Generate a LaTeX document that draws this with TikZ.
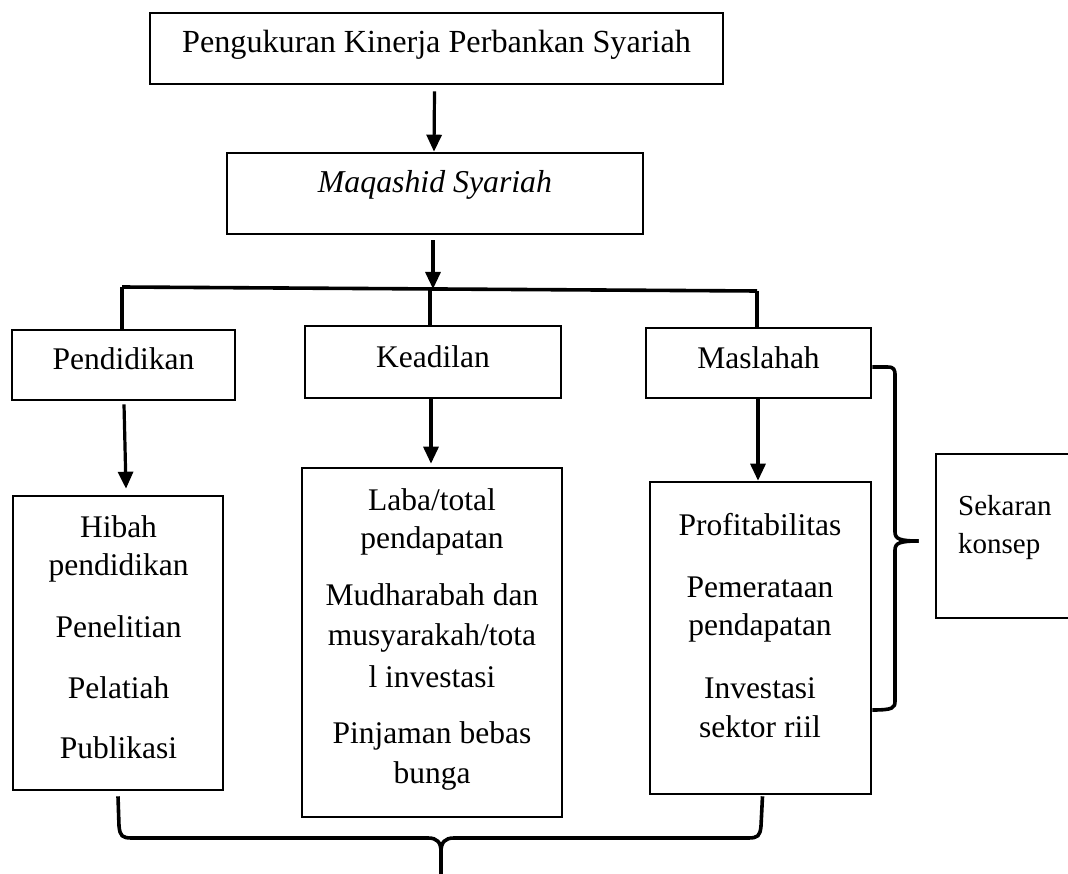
\documentclass[tikz,border=0pt]{standalone}
\usepackage{fontspec}
\setmainfont{Liberation Serif}
\usetikzlibrary{arrows.meta,calc}
\begin{document}
\begin{tikzpicture}[x=1pt,y=-1pt,
  box/.style={draw, line width=2.6pt, inner sep=0pt},
  txt/.style={font=\fontsize{31.5}{39}\selectfont, align=center, inner sep=0pt, anchor=base},
  arr/.style={line width=3.2pt, -{Triangle[length=17pt,width=15pt]}},
  conn/.style={line width=3.6pt},
  brace/.style={line width=3.6pt, line join=round}]
\useasboundingbox (0,0) rectangle (1068,874);

% boxes
\node[box, minimum width=573pt, minimum height=71pt] (top) at (436.5,48.5) {};
\node[box, minimum width=416pt, minimum height=81pt] (maq) at (435,193.5) {};
\node[box, minimum width=223pt, minimum height=70pt] (pend) at (123.5,365) {};
\node[box, minimum width=256pt, minimum height=72pt] (kead) at (433,362) {};
\node[box, minimum width=225pt, minimum height=70pt] (masl) at (758.5,363) {};
\node[box, minimum width=210pt, minimum height=294pt] (hib) at (118,643) {};
\node[box, minimum width=260pt, minimum height=349pt] (laba) at (432,642.5) {};
\node[box, minimum width=221pt, minimum height=312pt] (prof) at (760.5,638) {};
\node[box, minimum width=138pt, minimum height=164pt] (sek) at (1005,536) {};

% texts (multi-line nodes: base anchor = last line)
\node[txt, font=\fontsize{32.2}{39}\selectfont] (ttop) at (436.5,53) {Pengukuran Kinerja Perbankan Syariah};
\node[txt, font=\fontsize{31.8}{39}\selectfont\itshape] (tmaq) at (435,193) {Maqashid Syariah};
\node[txt] (tpend) at (123.5,370) {Pendidikan};
\node[txt] (tkead) at (433,367) {Keadilan};
\node[txt] (tmasl) at (758.5,369) {Maslahah};
\node[txt, font=\fontsize{31.5}{38}\selectfont] (thib) at (118.5,758)
  {Hibah\\pendidikan\\[24pt]Penelitian\\[23pt]Pelatiah\\[22pt]Publikasi};
\node[txt, font=\fontsize{31.5}{40}\selectfont] (tlaba) at (432,783)
  {Laba/total\\[-2pt]pendapatan\\[17pt]Mudharabah dan\\musyarakah/tota\\[2pt]l investasi\\[16pt]Pinjaman bebas\\bunga};
\node[txt, font=\fontsize{31.5}{38}\selectfont] (tprof) at (760,737)
  {Profitabilitas\\[24pt]Pemerataan\\pendapatan\\[25pt]Investasi\\[1pt]sektor riil};
\node[txt, font=\fontsize{29}{38}\selectfont, align=left, anchor=base west] (tsek) at (958,553)
  {Sekaran\\konsep};

% connectors
\coordinate (jL) at (122,287);
\coordinate (jR) at (757,291);
\coordinate (jM) at (433,289);
\draw[arr] ($(top.south)+(-2,6)$) -- ($(maq.north)+(-1,0)$);
\draw[arr] ($(maq.south)+(-2,5)$) -- (jM);
\draw[conn] (jL) -- (jR);
\draw[conn] (jL) -- (jL |- pend.north);
\draw[conn] ($(jM)+(-3,1)$) -- ($(kead.north)+(-3,0)$);
\draw[conn] (jR) -- ($(masl.north)+(-1.5,0)$);
\draw[arr] ($(pend.south)+(0.5,3)$) -- ($(hib.north)+(8,-6)$);
\draw[arr] ($(kead.south)+(-2,0)$) -- ($(laba.north)+(-1,-3)$);
\draw[arr] ($(masl.south)+(-0.5,0)$) -- ($(prof.north)+(-2.5,0)$);

% right brace
\coordinate (rbT) at ($(masl.east)+(0,4)$);
\coordinate (rbB) at ($(prof.east)+(0,72)$);
\coordinate (rbM) at ($(sek.west)+(-16,5)$);
\draw[brace] (rbT) -- (887,367) .. controls (894,367) and (895,369) .. (895,376) -- (895,532)
  .. controls (895,539) and (900,541) .. (rbM);
\draw[brace] (rbM) .. controls (900,541) and (895,543) .. (895,550) -- (895,701)
  .. controls (895,708) and (893,710) .. (rbB);

% bottom brace
\coordinate (bbL) at ($(hib.south)+(0,5)$);
\coordinate (bbR) at ($(prof.south)+(2,1)$);
\coordinate (bbT) at (441,874);
\draw[brace] (bbL) -- (119,826) .. controls (120,836) and (122,838) .. (132,838) -- (428,838)
  .. controls (437,838) and (441,842) .. (441,852) -- (bbT);
\draw[brace] (bbR) -- (761,826) .. controls (760,836) and (758,838) .. (748,838) -- (454,838)
  .. controls (445,838) and (441,842) .. (441,852);
\end{tikzpicture}
\end{document}
